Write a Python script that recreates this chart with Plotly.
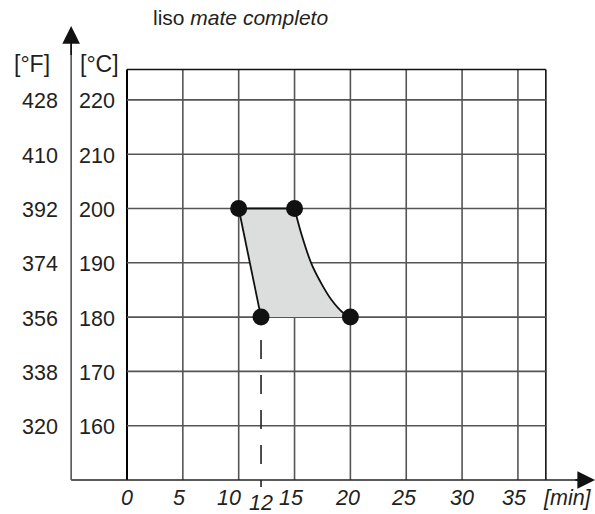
import plotly.graph_objects as go

# ---- data ----
minute_ticks = [0, 5, 10, 15, 20, 25, 30, 35]
celsius_ticks = [160, 170, 180, 190, 200, 210, 220]
fahrenheit_labels = ["320", "338", "356", "374", "392", "410", "428"]
grid_right = 37.5
grid_top = 225.6
axis_bottom = 150

# corner points of the zone
corner_time = [10, 15, 20, 12]
corner_temp = [200, 200, 180, 180]
# edges
right_edge_time = [15, 15.6, 16.5, 17.4, 18.3, 19.4, 20]
right_edge_temp = [200, 195.4, 189.9, 186.2, 183.2, 180.7, 180]
left_edge_time = [12, 11.0, 10]
left_edge_temp = [180, 190, 200]
marked_time = 12

W, H = 595, 514
X_RANGE = [-11.37, 41.90]
Y_RANGE = [143.74, 238.40]
FONT = "Liberation Sans, Arial, sans-serif"
TXT = "#231f20"

fig = go.Figure()

# fill of the zone
fill_x = [10, 15] + right_edge_time[1:] + left_edge_time[:]
fill_y = [200, 200] + right_edge_temp[1:] + left_edge_temp[:]
fig.add_trace(go.Scatter(x=fill_x, y=fill_y, mode="lines", fill="toself",
                         fillcolor="#dcdddd", line=dict(width=0), hoverinfo="skip",
                         showlegend=False))

shapes = []
# grid verticals
for t in minute_ticks:
    shapes.append(dict(type="line", xref="x", yref="y", x0=t, x1=t, y0=axis_bottom, y1=grid_top,
                       line=dict(color="#000000" if t == 0 else "#555555", width=2 if t == 0 else 1.6),
                       layer="below"))
shapes.append(dict(type="line", xref="x", yref="y", x0=grid_right, x1=grid_right, y0=axis_bottom, y1=grid_top,
                   line=dict(color="#111111", width=1.6), layer="below"))
for c in celsius_ticks:
    shapes.append(dict(type="line", xref="x", yref="y", x0=0, x1=grid_right, y0=c, y1=c,
                       line=dict(color="#555555", width=1.6), layer="below"))
shapes.append(dict(type="line", xref="x", yref="y", x0=0, x1=grid_right, y0=grid_top, y1=grid_top,
                   line=dict(color="#111111", width=1.6), layer="below"))
# axis lines
shapes.append(dict(type="line", xref="x", yref="y", x0=-5, x1=41.2, y0=axis_bottom, y1=axis_bottom,
                   line=dict(color="#222222", width=1.6)))
shapes.append(dict(type="line", xref="x", yref="y", x0=-5, x1=-5, y0=axis_bottom, y1=232.5,
                   line=dict(color="#555555", width=1.6)))
# dashed marker line
shapes.append(dict(type="line", xref="x", yref="y", x0=marked_time, x1=marked_time,
                   y0=180 - 4.22, y1=axis_bottom - 1.3,
                   line=dict(color="#222222", width=1.6, dash="19px,16px")))
fig.update_layout(shapes=shapes)

# edges
fig.add_trace(go.Scatter(x=corner_time[:2], y=corner_temp[:2], mode="lines",
                         line=dict(color="#111111", width=2), showlegend=False, hoverinfo="skip"))
fig.add_trace(go.Scatter(x=right_edge_time, y=right_edge_temp, mode="lines",
                         line=dict(color="#111111", width=1.8, shape="spline", smoothing=1),
                         showlegend=False, hoverinfo="skip"))
fig.add_trace(go.Scatter(x=left_edge_time, y=left_edge_temp, mode="lines",
                         line=dict(color="#111111", width=1.8, shape="spline"),
                         showlegend=False, hoverinfo="skip"))
fig.add_trace(go.Scatter(x=corner_time, y=corner_temp, mode="markers",
                         marker=dict(color="#111111", size=17), showlegend=False))

def px(x):
    return x / W

def py(y):
    return 1 - y / H

YF = 21.5
XF = 21.5
ann = []
# title
ann.append(dict(xref="paper", yref="paper", x=px(240.5), y=py(18), text="liso <i>mate completo</i>",
                showarrow=False, font=dict(size=21, color=TXT, family=FONT), xanchor="center", yanchor="middle"))
# unit headers
ann.append(dict(xref="paper", yref="paper", x=px(32), y=py(64), text="[°F]", showarrow=False,
                font=dict(size=23, color=TXT, family=FONT), xanchor="center", yanchor="middle"))
ann.append(dict(xref="paper", yref="paper", x=px(99), y=py(64), text="[°C]", showarrow=False,
                font=dict(size=23, color=TXT, family=FONT), xanchor="center", yanchor="middle"))
# y labels
for c, f in zip(celsius_ticks, fahrenheit_labels):
    ann.append(dict(xref="paper", yref="y", x=px(117), y=c, yshift=-1.5, text=str(c), showarrow=False,
                    font=dict(size=YF, color=TXT, family=FONT), xanchor="right", yanchor="middle"))
    ann.append(dict(xref="paper", yref="y", x=px(60), y=c, yshift=-1.5, text=f, showarrow=False,
                    font=dict(size=YF, color=TXT, family=FONT), xanchor="right", yanchor="middle"))
# x labels
shifts = {0: 0, 5: -3, 10: -10, 15: -3, 20: -3, 25: -2, 30: 0, 35: -3}
for t in minute_ticks:
    ann.append(dict(xref="x", yref="paper", x=t, xshift=shifts[t], y=py(498), text=f"<i>{t}</i>",
                    showarrow=False, font=dict(size=XF, color=TXT, family=FONT),
                    xanchor="center", yanchor="middle"))
ann.append(dict(xref="x", yref="paper", x=marked_time, y=py(503), text=f"<i>{marked_time}</i>",
                showarrow=False, font=dict(size=XF, color=TXT, family=FONT),
                xanchor="center", yanchor="middle"))
ann.append(dict(xref="paper", yref="paper", x=px(567), y=py(498), text="<i>[min]</i>",
                showarrow=False, font=dict(size=XF, color=TXT, family=FONT),
                xanchor="center", yanchor="middle"))
# arrow heads
ann.append(dict(xref="x", yref="y", axref="x", ayref="y", x=-5, y=233.6, ax=-5, ay=228,
                showarrow=True, arrowhead=2, arrowsize=2.2, arrowwidth=1.6, arrowcolor="#111111", text=""))
ann.append(dict(xref="x", yref="y", axref="x", ayref="y", x=41.9, y=axis_bottom, ax=40.0, ay=axis_bottom,
                showarrow=True, arrowhead=2, arrowsize=2.2, arrowwidth=1.6, arrowcolor="#111111", text=""))
fig.update_layout(annotations=ann)

fig.update_layout(
    width=W, height=H, autosize=False,
    margin=dict(l=0, r=0, t=0, b=0),
    paper_bgcolor="white", plot_bgcolor="white",
    xaxis=dict(range=X_RANGE, visible=False, fixedrange=True),
    yaxis=dict(range=Y_RANGE, visible=False, fixedrange=True),
    showlegend=False,
)
fig.write_html("out.html", config={"displayModeBar": False},
               post_script="document.body.style.margin='0px';document.body.style.padding='0px';document.body.style.overflow='hidden';")
